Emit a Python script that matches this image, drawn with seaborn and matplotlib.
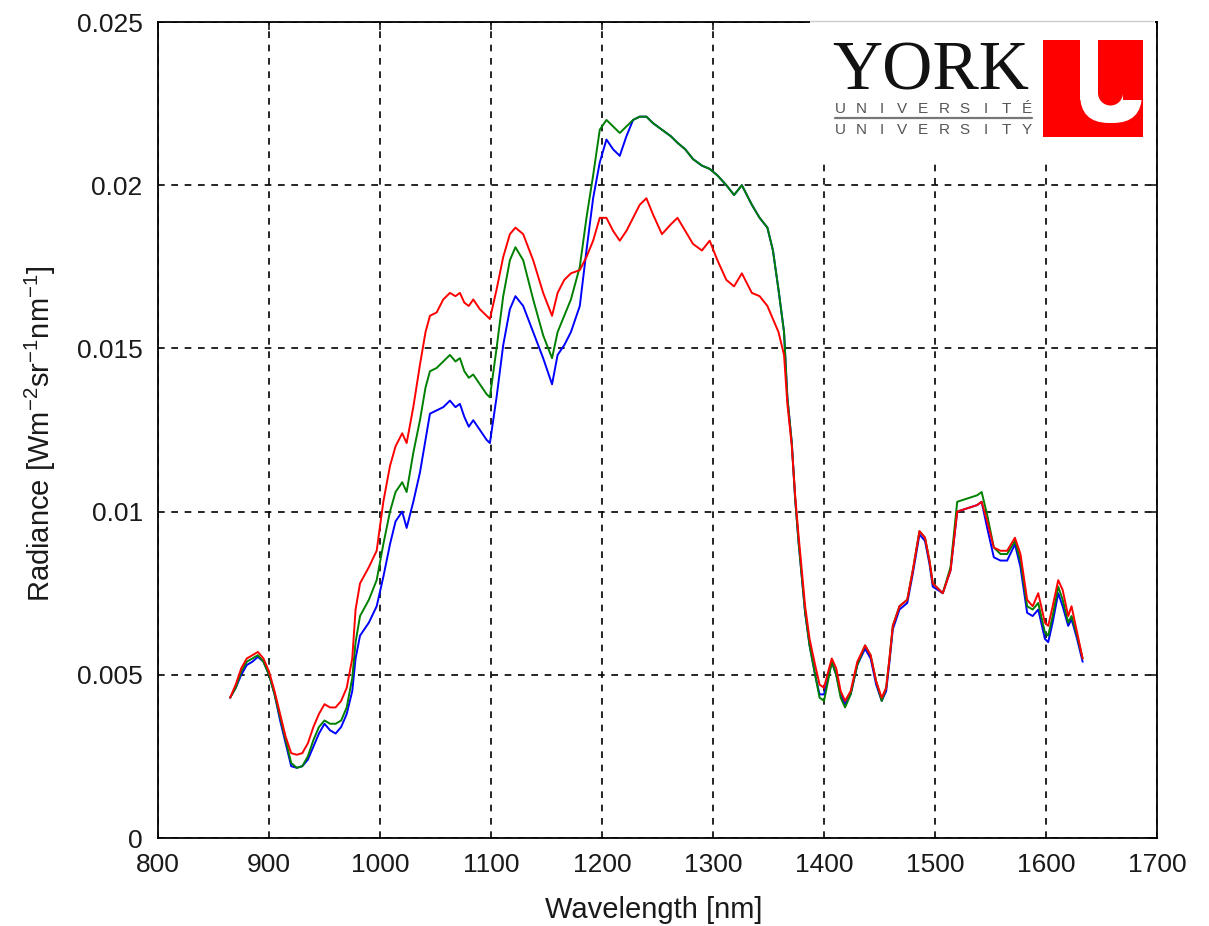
import numpy as np
import pandas as pd
import matplotlib
matplotlib.use("Agg")
import matplotlib.pyplot as plt
from matplotlib.patches import Rectangle, FancyBboxPatch, Circle
from matplotlib.ticker import FixedLocator, FuncFormatter
import seaborn as sns

# ---------------- data ----------------
wavelength = [865, 870, 875, 880, 885, 890, 895, 900, 905, 910, 915, 920, 925, 930, 935, 940, 945, 950, 955,
              960, 965, 970, 975, 978, 982, 990, 997, 1003, 1009, 1014, 1020, 1024, 1030, 1036, 1041, 1045,
              1051, 1057, 1063, 1068, 1072, 1076, 1080, 1084, 1090, 1096, 1099, 1105, 1111, 1117, 1122, 1129,
              1138, 1147, 1155, 1160, 1166, 1172, 1180, 1186, 1192, 1198, 1204, 1210, 1216, 1222, 1228, 1234,
              1240, 1246, 1254, 1262, 1268, 1275, 1282, 1290, 1297, 1304, 1312, 1319, 1326, 1335, 1342, 1349,
              1354, 1359, 1364, 1367, 1371, 1374, 1377, 1380, 1383, 1387, 1392, 1396, 1400, 1403, 1407, 1411,
              1415, 1419, 1424, 1430, 1437, 1442, 1447, 1452, 1456, 1459, 1462, 1468, 1475, 1480, 1486, 1491,
              1495, 1498, 1507, 1514, 1520, 1529, 1538, 1542, 1547, 1553, 1559, 1565, 1572, 1577, 1583, 1588,
              1593, 1599, 1602, 1606, 1611, 1615, 1620, 1623, 1628, 1633]

radiance_red = [0.0043, 0.0047, 0.0052, 0.0055, 0.0056, 0.0057, 0.0055, 0.0051, 0.0045, 0.0038, 0.0031, 0.0026,
                0.00255, 0.0026, 0.0029, 0.0034, 0.0038, 0.0041, 0.0040, 0.0040, 0.0042, 0.0046, 0.0055, 0.0070,
                0.0078, 0.0083, 0.0088, 0.0103, 0.0114, 0.0120, 0.0124, 0.0121, 0.0132, 0.0145, 0.0155, 0.0160,
                0.0161, 0.0165, 0.0167, 0.0166, 0.0167, 0.0164, 0.0163, 0.0165, 0.0162, 0.0160, 0.0159, 0.0168,
                0.0178, 0.0185, 0.0187, 0.0185, 0.0177, 0.0167, 0.0160, 0.0167, 0.0171, 0.0173, 0.0174, 0.0178,
                0.0183, 0.0190, 0.0190, 0.0186, 0.0183, 0.0186, 0.0190, 0.0194, 0.0196, 0.0191, 0.0185, 0.0188,
                0.0190, 0.0186, 0.0182, 0.0180, 0.0183, 0.0177, 0.0171, 0.0169, 0.0173, 0.0167, 0.0166, 0.0163,
                0.0159, 0.0155, 0.0148, 0.0133, 0.0120, 0.0105, 0.0093, 0.0082, 0.0071, 0.0061, 0.0053, 0.0047,
                0.0046, 0.0050, 0.0055, 0.0052, 0.0045, 0.0042, 0.0045, 0.0054, 0.0059, 0.0056, 0.0048, 0.0043,
                0.0046, 0.0055, 0.0065, 0.0071, 0.0073, 0.0082, 0.0094, 0.0092, 0.0085, 0.0078, 0.0075, 0.0082,
                0.0100, 0.0101, 0.0102, 0.0103, 0.0097, 0.0089, 0.0088, 0.0088, 0.0092, 0.0087, 0.0073, 0.0071,
                0.0075, 0.0066, 0.0065, 0.0071, 0.0079, 0.0076, 0.0068, 0.0071, 0.0063, 0.0055]

radiance_green = [0.0043, 0.0046, 0.0051, 0.0054, 0.0055, 0.0056, 0.0054, 0.0050, 0.0044, 0.0037, 0.0030, 0.0023,
                  0.00215, 0.0022, 0.0025, 0.0030, 0.0034, 0.0036, 0.0035, 0.0035, 0.0036, 0.0040, 0.0049, 0.0060,
                  0.0068, 0.0073, 0.0079, 0.0090, 0.0100, 0.0106, 0.0109, 0.0106, 0.0118, 0.0128, 0.0138, 0.0143,
                  0.0144, 0.0146, 0.0148, 0.0146, 0.0147, 0.0143, 0.0141, 0.0142, 0.0139, 0.0136, 0.0135, 0.0150,
                  0.0166, 0.0177, 0.0181, 0.0177, 0.0165, 0.0154, 0.0147, 0.0155, 0.0160, 0.0165, 0.0175, 0.0190,
                  0.0203, 0.0217, 0.0220, 0.0218, 0.0216, 0.0218, 0.0220, 0.0221, 0.0221, 0.0219, 0.0217, 0.0215,
                  0.0213, 0.0211, 0.0208, 0.0206, 0.0205, 0.0203, 0.0200, 0.0197, 0.0200, 0.0194, 0.0190, 0.0187,
                  0.0180, 0.0168, 0.0155, 0.0135, 0.0121, 0.0104, 0.0091, 0.0080, 0.0069, 0.0059, 0.0050, 0.0043,
                  0.0042, 0.0047, 0.0054, 0.0050, 0.0043, 0.0040, 0.0044, 0.0053, 0.0059, 0.0056, 0.0048, 0.0042,
                  0.0046, 0.0055, 0.0065, 0.0071, 0.0073, 0.0082, 0.0094, 0.0092, 0.0085, 0.0078, 0.0075, 0.0083,
                  0.0103, 0.0104, 0.0105, 0.0106, 0.0099, 0.0089, 0.0087, 0.0087, 0.0091, 0.0085, 0.0071, 0.0070,
                  0.0072, 0.0063, 0.0062, 0.0068, 0.0077, 0.0073, 0.0066, 0.0068, 0.0062, 0.0055]

radiance_blue = [0.0043, 0.0046, 0.0050, 0.0053, 0.0054, 0.00555, 0.0054, 0.0050, 0.0044, 0.0036, 0.0029, 0.0022,
                 0.00215, 0.0022, 0.0024, 0.0028, 0.0032, 0.0035, 0.0033, 0.0032, 0.0034, 0.0038, 0.0045, 0.0055,
                 0.0062, 0.0066, 0.0071, 0.0080, 0.0090, 0.0097, 0.0100, 0.0095, 0.0103, 0.0112, 0.0122, 0.0130,
                 0.0131, 0.0132, 0.0134, 0.0132, 0.0133, 0.0129, 0.0126, 0.0128, 0.0125, 0.0122, 0.0121, 0.0135,
                 0.0151, 0.0162, 0.0166, 0.0163, 0.0155, 0.0147, 0.0139, 0.0148, 0.0151, 0.0155, 0.0163, 0.0180,
                 0.0196, 0.0207, 0.0214, 0.0211, 0.0209, 0.0215, 0.0220, 0.0221, 0.0221, 0.0219, 0.0217, 0.0215,
                 0.0213, 0.0211, 0.0208, 0.0206, 0.0205, 0.0203, 0.0200, 0.0197, 0.0200, 0.0194, 0.0190, 0.0187,
                 0.0180, 0.0168, 0.0155, 0.0135, 0.0121, 0.0104, 0.0091, 0.0080, 0.0069, 0.0059, 0.0050, 0.0044,
                 0.0044, 0.0048, 0.0054, 0.0050, 0.0044, 0.0041, 0.0044, 0.0053, 0.0058, 0.0055, 0.0047, 0.0042,
                 0.0045, 0.0054, 0.0064, 0.0070, 0.0072, 0.0081, 0.0093, 0.0091, 0.0084, 0.0077, 0.0075, 0.0082,
                 0.0100, 0.0101, 0.0102, 0.0103, 0.0095, 0.0086, 0.0085, 0.0085, 0.0090, 0.0083, 0.0069, 0.0068,
                 0.0070, 0.0061, 0.0060, 0.0066, 0.0075, 0.0071, 0.0065, 0.0067, 0.0061, 0.0054]

series_names = ["blue", "green", "red"]
series_colors = {"blue": "#0000ff", "green": "#008000", "red": "#ff0000"}

x_ticks = [800, 900, 1000, 1100, 1200, 1300, 1400, 1500, 1600, 1700]
y_ticks = [0, 0.005, 0.01, 0.015, 0.02, 0.025]
y_tick_labels = ["0", "0.005", "0.01", "0.015", "0.02", "0.025"]

logo_word = "YORK"
logo_line1 = "UNIVERSITÉ"
logo_line2 = "UNIVERSITY"

# ---------------- table ----------------
frames = []
for name, vals in zip(series_names, [radiance_blue, radiance_green, radiance_red]):
    frames.append(pd.DataFrame({"Wavelength": wavelength, "Radiance": vals, "series": name}))
df = pd.concat(frames, ignore_index=True)

# ---------------- style ----------------
sns.set_style("white")
plt.rcParams["font.family"] = ["Liberation Sans", "DejaVu Sans"]
plt.rcParams["mathtext.default"] = "regular"

fig = plt.figure(figsize=(12.09, 9.26), dpi=100)
ax = fig.add_axes([158 / 1209, 88 / 926, 999 / 1209, 816 / 926])

sns.lineplot(data=df, x="Wavelength", y="Radiance", hue="series", hue_order=series_names,
             palette=series_colors, sort=False, estimator=None, linewidth=1.4, legend=False, ax=ax)

ax.set_xlim(800, 1700)
ax.set_ylim(0, 0.025)
ax.xaxis.set_major_locator(FixedLocator(x_ticks))
ax.yaxis.set_major_locator(FixedLocator(y_ticks))
ax.yaxis.set_major_formatter(FuncFormatter(
    lambda v, p: y_tick_labels[y_ticks.index(round(v, 3))] if round(v, 3) in y_ticks else ""))
ax.grid(True, color="black", linestyle=(0, (4, 4)), linewidth=1.2)
ax.tick_params(direction="in", length=6, width=1.2, labelsize=19, colors="#1a1a1a", pad=11,
               top=True, right=True)
for s in ax.spines.values():
    s.set_visible(True)
    s.set_color("black")
    s.set_linewidth(1.3)

ax.set_xlabel("Wavelength [nm]", fontsize=21, color="#1a1a1a")
ax.set_ylabel("Radiance [Wm$^{-2}$sr$^{-1}$nm$^{-1}$]", fontsize=21, color="#1a1a1a")
ax.xaxis.set_label_coords(0.4965, -0.071)
ax.yaxis.set_label_coords(-0.1, 0.496)

# ---------------- logo ----------------
lax = fig.add_axes([810 / 1209, (926 - 160) / 926, 345 / 1209, 140 / 926])
lax.set_xlim(810, 1155)
lax.set_ylim(160, 20)
lax.set_aspect("equal")
lax.axis("off")
lax.add_patch(Rectangle((810, 20), 345, 140, facecolor="white", edgecolor="none", zorder=0))
lax.plot([810, 1153], [21, 21], color="#cccccc", lw=1)
lax.text(832, 89, logo_word, family="Liberation Serif", fontsize=50, color="#111111",
         va="baseline", ha="left")
for i, ch in enumerate(logo_line1):
    lax.text(840 + i * 20.8, 113, ch, fontsize=11, color="#555555", va="baseline", ha="center")
lax.plot([835, 1032], [118, 118], color="#777777", lw=1.6)
for i, ch in enumerate(logo_line2):
    lax.text(840 + i * 20.8, 134, ch, fontsize=11, color="#555555", va="baseline", ha="center")
# red square with white U
lax.add_patch(Rectangle((1043, 40), 100, 97, facecolor="#ff0000", edgecolor="none", zorder=1))
lax.add_patch(FancyBboxPatch((1080, 62), 62, 61, boxstyle="round,pad=0,rounding_size=29",
                             facecolor="white", edgecolor="none", zorder=2))
lax.add_patch(Rectangle((1080, 40), 18, 60, facecolor="white", edgecolor="none", zorder=2))
lax.add_patch(Rectangle((1123, 40), 20, 60, facecolor="#ff0000", edgecolor="none", zorder=3))
lax.add_patch(Rectangle((1098, 40), 25, 53, facecolor="#ff0000", edgecolor="none", zorder=3))
lax.add_patch(Circle((1110.5, 93), 12.5, facecolor="#ff0000", edgecolor="none", zorder=3))

fig.savefig("out.png", dpi=100, facecolor="white")
